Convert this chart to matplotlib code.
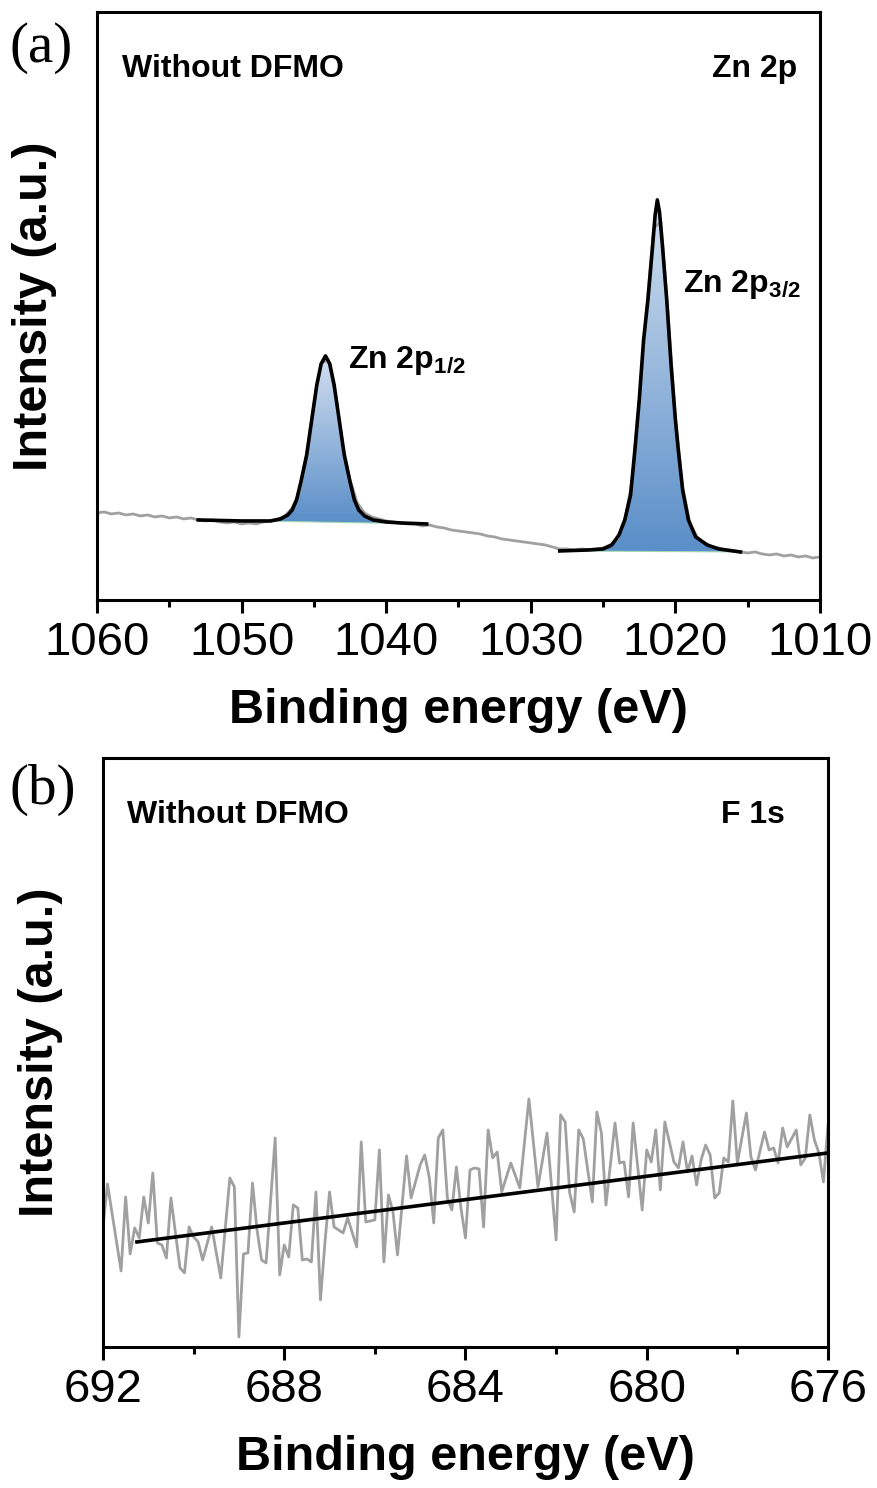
import matplotlib

matplotlib.use("Agg")
import matplotlib.pyplot as plt
import numpy as np
from matplotlib.colors import LinearSegmentedColormap
from matplotlib.patches import PathPatch
from matplotlib.ticker import MultipleLocator

plt.rcParams["font.family"] = ["Liberation Sans", "DejaVu Sans"]
plt.rcParams["mathtext.fontset"] = "custom"
plt.rcParams["mathtext.bf"] = "Liberation Sans:bold"
plt.rcParams["mathtext.default"] = "bf"

# ---- panel (a): Zn 2p (intensity in arbitrary units) ----
zn_energy = np.round(np.arange(1060.0, 1009.9, -0.5), 1)
zn_raw = [
    87, 88, 86, 87, 85, 86, 84, 85, 83, 84, 82, 83, 81, 82, 80, 79, 80, 78, 77, 78,
    76, 77, 76, 78, 79, 81, 84, 92, 108, 146, 196, 237, 240, 205, 154, 120, 97, 87,
    83, 81, 79, 78, 77, 76, 76, 74, 75, 73, 72, 70, 69, 68, 67, 66, 64, 63, 61, 60,
    59, 58, 57, 56, 55, 53, 51, 51, 50, 51, 50, 51, 52, 55, 61, 80, 118, 200, 290,
    372, 378, 285, 183, 113, 77, 63, 57, 53, 52, 50, 49, 48, 47, 48, 46, 45, 46, 44,
    45, 43, 44, 42, 43,
]

p12_energy = [1053.0, 1050.0, 1048.0, 1047.3, 1046.8, 1046.5, 1046.2, 1045.9, 1045.5,
              1045.1, 1044.8, 1044.5, 1044.2, 1043.9, 1043.6, 1043.3, 1042.9, 1042.5,
              1042.2, 1041.9, 1041.5, 1040.9, 1040.0, 1039.0, 1037.2]
p12_fit = [80, 79, 79, 81, 85, 90, 100, 118, 145, 185, 215, 236, 244, 236, 215, 185,
           145, 118, 100, 90, 84, 80, 78, 77, 76]
p12_bg = [(1053.0, 80), (1037.2, 76)]

p32_energy = [1028.0, 1026.0, 1025.0, 1024.4, 1023.9, 1023.5, 1023.1, 1022.8, 1022.5,
              1022.2, 1021.9, 1021.6, 1021.4, 1021.25, 1021.1, 1020.9, 1020.6, 1020.3,
              1020.0, 1019.8, 1019.5, 1019.1, 1018.6, 1017.8, 1017.0, 1016.0, 1015.5]
p32_fit = [49, 50, 51, 55, 65, 80, 105, 150, 200, 260, 300, 350, 385, 400, 388, 355,
           300, 235, 180, 150, 110, 80, 63, 55, 51, 49, 48]
p32_bg = [(1028.0, 49), (1015.5, 48)]

# ---- panel (b): F 1s ----
f_energy = [
    692.0, 691.9, 691.6, 691.5, 691.4, 691.3, 691.2, 691.1, 691.0, 690.9, 690.8, 690.7,
    690.6, 690.5, 690.3, 690.2, 690.1, 690.0, 689.9, 689.8, 689.6, 689.4, 689.2, 689.1,
    689.0, 688.9, 688.8, 688.7, 688.6, 688.5, 688.4, 688.2, 688.1, 688.0, 687.9, 687.8,
    687.7, 687.6, 687.5, 687.4, 687.3, 687.2, 687.1, 687.0, 686.9, 686.8, 686.7, 686.6,
    686.4, 686.3, 686.2, 686.0, 685.9, 685.8, 685.7, 685.6, 685.5, 685.3, 685.2, 685.0,
    684.9, 684.8, 684.7, 684.6, 684.5, 684.4, 684.3, 684.2, 684.1, 684.0, 683.9, 683.8,
    683.7, 683.6, 683.5, 683.4, 683.3, 683.2, 683.0, 682.8, 682.6, 682.4, 682.2, 682.0,
    681.9, 681.8, 681.7, 681.6, 681.5, 681.4, 681.2, 681.1, 681.0, 680.9, 680.7, 680.6,
    680.5, 680.4, 680.3, 680.1, 680.0, 679.9, 679.8, 679.7, 679.6, 679.4, 679.3, 679.2,
    679.1, 679.0, 678.9, 678.8, 678.7, 678.6, 678.5, 678.4, 678.3, 678.2, 678.1, 678.0,
    677.8, 677.7, 677.6, 677.4, 677.3, 677.2, 677.1, 677.0, 676.9, 676.7, 676.6, 676.5,
    676.4, 676.3, 676.2, 676.1, 676.0,
]
f_raw = [
    120, 163, 76, 150, 93, 119, 109, 150, 124, 174, 104, 102,
    89, 149, 79, 74, 120, 110, 105, 87, 120, 69, 169, 160,
    10, 93, 94, 164, 117, 87, 84, 209, 72, 102, 90, 142,
    139, 87, 88, 85, 155, 47, 105, 155, 120, 117, 114, 129,
    100, 205, 125, 127, 197, 85, 152, 135, 92, 191, 149, 182,
    192, 170, 124, 209, 217, 149, 137, 180, 139, 109, 177, 179,
    178, 120, 217, 189, 195, 155, 184, 159, 248, 160, 214, 107,
    232, 225, 154, 135, 217, 208, 145, 235, 214, 142, 224, 184,
    185, 150, 224, 137, 197, 185, 217, 157, 225, 185, 179, 205,
    175, 191, 162, 187, 202, 192, 149, 154, 189, 185, 246, 184,
    234, 190, 177, 215, 197, 199, 184, 219, 200, 217, 182, 189,
    232, 207, 194, 165, 222,
]
f_fit_energy = [691.25, 676.0]
f_fit = [105, 194]

GRAY = "#a0a0a0"
BLUE_TOP = "#d3e0f0"
BLUE_BOT = "#5a8ec8"


def gradient_fill(ax, x, top, base):
    x = np.asarray(x, dtype=float)
    top = np.asarray(top, dtype=float)
    poly = ax.fill_between(x, base, top, facecolor="none", edgecolor="none")
    patch = PathPatch(poly.get_paths()[0], transform=ax.transData,
                      facecolor="none", edgecolor="none")
    ax.add_patch(patch)
    cmap = LinearSegmentedColormap.from_list("peak", [BLUE_BOT, BLUE_TOP])
    grad = np.linspace(0, 1, 256).reshape(-1, 1)
    im = ax.imshow(grad, extent=(x.min(), x.max(), np.min(base), top.max()),
                   origin="lower", aspect="auto", cmap=cmap, zorder=1)
    im.set_clip_path(patch)


def style_axes(ax, xlim, major, minor):
    ax.set_xlim(*xlim)
    ax.xaxis.set_major_locator(MultipleLocator(major))
    ax.xaxis.set_minor_locator(MultipleLocator(minor))
    ax.set_yticks([])
    for sp in ax.spines.values():
        sp.set_linewidth(2.2)
    ax.tick_params(axis="x", which="major", direction="out", length=9, width=2.2,
                   labelsize=34, pad=6)
    ax.tick_params(axis="x", which="minor", direction="out", length=5, width=2.2)
    ax.set_xlabel("Binding energy (eV)", fontsize=35, fontweight="bold", labelpad=17)
    ax.set_ylabel("Intensity (a.u.)", fontsize=35, fontweight="bold", labelpad=29)


fig = plt.figure(figsize=(8.77, 14.88), dpi=100)
ax1 = fig.add_axes([0.1106, 0.5968, 0.8244, 0.3952])
ax2 = fig.add_axes([0.1174, 0.0948, 0.8267, 0.3958])

# panel (a)
ax1.plot(zn_energy, zn_raw, color=GRAY, lw=2.0, zorder=2)
for e, fit, bg in [(p12_energy, p12_fit, p12_bg), (p32_energy, p32_fit, p32_bg)]:
    bx = [bg[0][0], bg[1][0]]
    by = [bg[0][1], bg[1][1]]
    base = np.interp(e, bx[::-1], by[::-1])
    gradient_fill(ax1, e, fit, base)
    ax1.plot(e, base, color="#9fd8b4", lw=0.8, zorder=2)
    ax1.plot(e, fit, color="black", lw=2.6, zorder=3)
ax1.set_ylim(0, 588)
style_axes(ax1, (1060, 1010), 10, 5)

ax1.text(0.035, 0.8895, "Without DFMO", transform=ax1.transAxes, fontsize=23,
         fontweight="bold", va="baseline", ha="left")
ax1.text(0.968, 0.8895, "Zn 2p", transform=ax1.transAxes, fontsize=23,
         fontweight="bold", va="baseline", ha="right")
ax1.text(1042.64, 232, "Zn 2p$_{1/2}$", fontsize=23, fontweight="bold",
         va="baseline", ha="left")
ax1.text(1019.47, 308, "Zn 2p$_{3/2}$", fontsize=23, fontweight="bold",
         va="baseline", ha="left")

# panel (b)
ax2.plot(f_energy, f_raw, color=GRAY, lw=2.0, zorder=2)
ax2.plot(f_fit_energy, f_fit, color="black", lw=2.6, zorder=3)
ax2.set_ylim(0, 589)
style_axes(ax2, (692, 676), 4, 2)

ax2.text(0.033, 0.8896, "Without DFMO", transform=ax2.transAxes, fontsize=23,
         fontweight="bold", va="baseline", ha="left")
ax2.text(0.94, 0.8896, "F 1s", transform=ax2.transAxes, fontsize=23,
         fontweight="bold", va="baseline", ha="right")

fig.text(0.0114, 0.9677, "(a)", fontsize=41, family="Liberation Serif",
         va="center", ha="left")
fig.text(0.0114, 0.469, "(b)", fontsize=41, family="Liberation Serif",
         va="center", ha="left")

fig.savefig("out.png", dpi=100)
